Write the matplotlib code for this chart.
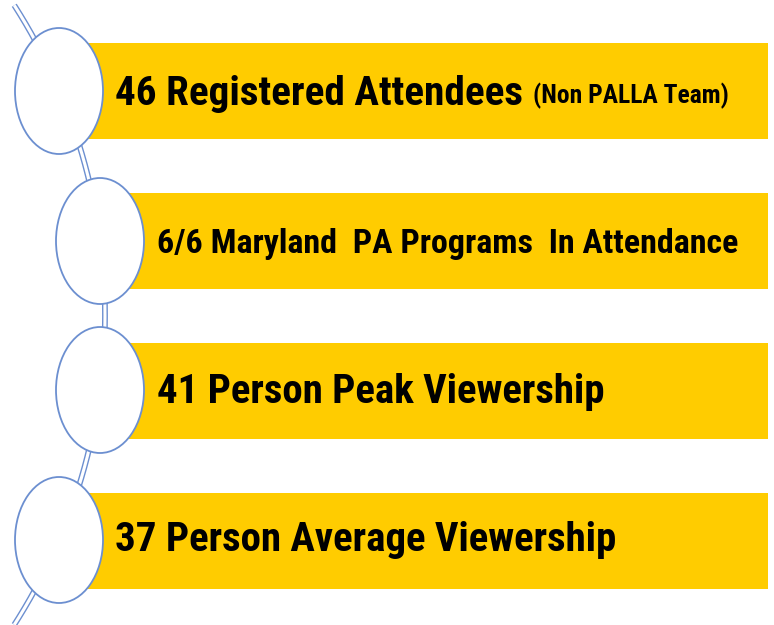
import matplotlib
matplotlib.use("Agg")
import matplotlib.pyplot as plt
from matplotlib import font_manager
from matplotlib.patches import Ellipse
import numpy as np

labels = [
    "46 Registered Attendees",
    "6/6 Maryland  PA Programs  In Attendance",
    "41 Person Peak Viewership",
    "37 Person Average Viewership",
]
note = "(Non PALLA Team)"

gold = "#FFCC00"
blue = "#6C8FD0"

# pick a narrow bold font if there is one
names = {f.name for f in font_manager.fontManager.ttflist}
font = "DejaVu Sans"
for cand in ["Liberation Sans Narrow", "Roboto Condensed", "Open Sans Condensed",
             "DejaVu Sans Condensed", "Noto Sans"]:
    if cand in names:
        font = cand
        break

fig = plt.figure(figsize=(7.74, 6.25), dpi=100)
ax = fig.add_axes([0, 0, 1, 1])
ax.set_xlim(0, 774)
ax.set_ylim(625, 0)
ax.axis("off")

# layout (pixel space)
bar_y = [90.5, 241, 390.5, 541]
bar_h = 96
circ_x = [59, 100, 100, 59]
circ_y = [91, 241, 390, 540]
bar_right = 768
text_x = [115, 157, 157, 115]
text_right = [522, 738, 606, 618]
baselines = [105, 253, 403, 551]

# background arc of the chain
t = np.linspace(-0.57, 0.57, 300)
R, cx, cy = 574, -469, 315
ax.plot(cx + R * np.cos(t), cy + R * np.sin(t), color=blue, lw=4.2,
        solid_capstyle="butt", zorder=1)
ax.plot(cx + R * np.cos(t), cy + R * np.sin(t), color="white", lw=2.2,
        solid_capstyle="butt", zorder=1.1)

lefts = np.array(circ_x)
ax.barh(bar_y, bar_right - lefts, left=lefts, height=bar_h, color=gold,
        zorder=2)

for x, y in zip(circ_x, circ_y):
    ax.add_patch(Ellipse((x, y), 88, 126, facecolor="white", edgecolor=blue,
                         lw=1.3, zorder=3))

renderer = fig.canvas.get_renderer()


def fit_text(s, x0, x1, yb, **kw):
    t = ax.text(x0, yb, s, fontsize=30, fontweight="bold", family=font,
                ha="left", va="baseline", color="black", zorder=4, **kw)
    w = t.get_window_extent(renderer).width
    t.set_fontsize(30 * (x1 - x0) / w)
    return t


for s, x0, x1, yb in zip(labels, text_x, text_right, baselines):
    fit_text(s, x0, x1, yb)

fit_text(note, 533, 728, 103)

fig.savefig("out.png", dpi=100)
